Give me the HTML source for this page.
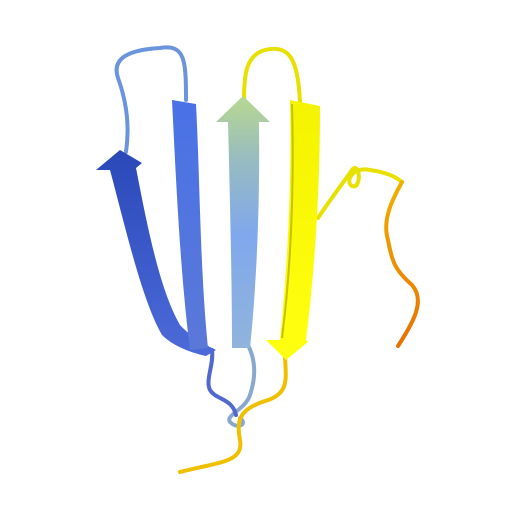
<!DOCTYPE html>
<html><head><meta charset="utf-8"><style>
html,body{margin:0;padding:0;background:#fff;width:512px;height:512px;overflow:hidden}
</style></head><body>
<svg width="512" height="512" viewBox="0 0 512 512" xmlns="http://www.w3.org/2000/svg">
<defs>
<linearGradient id="g1" x1="0" y1="0" x2="0" y2="1"><stop offset="0" stop-color="#2a48b8"/><stop offset="1" stop-color="#4c6ad8"/></linearGradient>
<linearGradient id="g2" x1="0" y1="0" x2="0" y2="1"><stop offset="0" stop-color="#4a72e6"/><stop offset="1" stop-color="#5a78d8"/></linearGradient>
<linearGradient id="g3" x1="0" y1="0" x2="0" y2="1"><stop offset="0" stop-color="#b8d890"/><stop offset="0.25" stop-color="#98bcc0"/><stop offset="0.55" stop-color="#80a8ec"/><stop offset="1" stop-color="#90b4dc"/></linearGradient>
<linearGradient id="g4" x1="0" y1="0" x2="0" y2="1"><stop offset="0" stop-color="#f4f400"/><stop offset="1" stop-color="#ffff10"/></linearGradient>
<linearGradient id="go" x1="0" y1="0" x2="0" y2="1"><stop offset="0" stop-color="#f0b000"/><stop offset="1" stop-color="#e87000"/></linearGradient>
</defs>
<g fill="none" stroke-linecap="round" stroke-linejoin="round">
<path d="M126,152 C130,125 126,100 118,78 C112,60 125,50 160,48 C185,44 186,60 186,100" stroke="#6a94dc" stroke-width="4"/>
<path d="M244,100 C244,75 246,55 265,50 C290,44 298,60 300,102" stroke="#e8e000" stroke-width="4"/>
<path d="M318,218 C330,200 345,180 352,170 C360,160 362,190 352,186 C345,182 352,166 370,170 C385,172 395,176 402,182" stroke="#e8e000" stroke-width="4"/>
<path d="M402,182 C392,200 382,220 388,240 C392,262 395,270 412,285 C425,300 415,320 398,346" stroke="url(#go)" stroke-width="4"/>
<path d="M245,340 C258,360 255,380 250,395 C245,410 225,415 230,422 C238,430 248,424 240,418" stroke="#88a8d0" stroke-width="4"/>
<path d="M212,350 C214,365 205,380 210,390 C216,400 232,398 236,415" stroke="#5068d0" stroke-width="4"/>
<path d="M285,356 C286,380 290,395 262,402 C240,410 236,420 240,440 C244,462 220,462 180,472" stroke="#f0c000" stroke-width="4"/>
</g>
<path d="M96,170 L120,150 L142,163 L136,168 C148,230 160,290 180,325 C192,338 204,344 216,350 L206,356 C188,352 172,345 162,335 C142,300 126,230 110,170 Z" fill="url(#g1)"/>
<path d="M172,100 L196,104 C200,180 200,270 208,348 L190,350 C180,270 176,180 172,100 Z" fill="url(#g2)"/>
<path d="M216,122 L243,96 L270,122 L259,122 C260,200 257,280 250,348 L232,348 C232,280 230,200 228,122 Z" fill="url(#g3)"/>
<path d="M290,100 L320,106 C320,180 316,260 306,340 L308,342 L286,360 L266,340 L280,340 C288,260 292,180 290,100 Z" fill="url(#g4)"/>
<path d="M292,104 C294,180 292,260 282,338" stroke="#c8c000" stroke-width="2" fill="none"/>
</svg>
</body></html>
